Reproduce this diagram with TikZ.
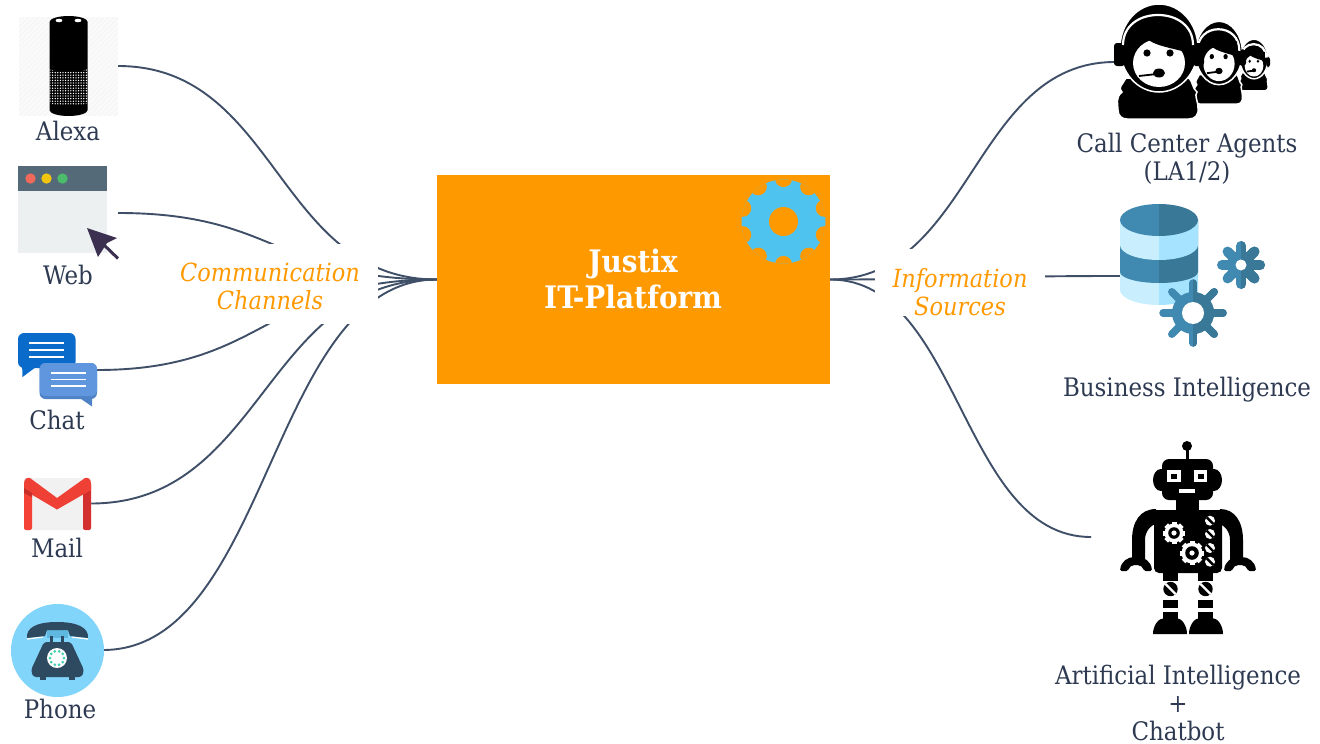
\documentclass[tikz,border=0pt]{standalone}
\usepackage{fontspec}
\usetikzlibrary{calc}
\setmainfont{DejaVu Serif Condensed}
\definecolor{linec}{HTML}{3F4F68}
\definecolor{textc}{HTML}{2E3A52}
\definecolor{orangec}{HTML}{FF9900}
\definecolor{gearblue}{HTML}{4FC3F0}
\definecolor{dbl}{HTML}{4089B0}
\definecolor{dbd}{HTML}{3A7898}
\definecolor{dbll}{HTML}{C9EFFF}
\definecolor{dbld}{HTML}{A6E3FF}
\definecolor{phoned}{HTML}{2E4A60}
\definecolor{webbg}{HTML}{ECF0F1}
\definecolor{webbar}{HTML}{546A79}
\definecolor{webr}{HTML}{F0695A}
\definecolor{weby}{HTML}{F1C40F}
\definecolor{webg}{HTML}{4CBB6C}
\definecolor{cursorc}{HTML}{3B3050}
\definecolor{chata}{HTML}{0B6BCB}
\definecolor{chatb}{HTML}{5F96DD}
\definecolor{chatc}{HTML}{4F82C6}
\definecolor{mailbg}{HTML}{F1F1F1}
\definecolor{maila}{HTML}{F44336}
\definecolor{mailb}{HTML}{D32F2F}
\definecolor{mailc}{HTML}{EE4035}
\definecolor{maild}{HTML}{C62E27}
\definecolor{phonebg}{HTML}{81D4FA}
\definecolor{phoneneck}{HTML}{5FB8DF}
\definecolor{phonedot}{HTML}{3FD0B2}
\tikzset{
  conn/.style={draw=linec,line width=1.9pt},
  iconcap/.style={text=textc,font=\fontsize{25.5}{28}\selectfont,align=center,inner sep=0pt},
  srclabel/.style={text=orangec,font=\fontsize{25}{28}\selectfont\itshape,align=center,inner sep=0pt},
  mask/.style={fill=white,draw=none,inner sep=0pt}
}
% half-bands of the database cylinder
\newcommand{\dbband}[5]{%
  \fill[#4] (1120,#1) -- (1120,#2) .. controls (1120,{#2+.55*#3}) and (1137.5,{#2+#3}) .. (1159,{#2+#3}) -- (1159,#1) -- cycle;
  \fill[#5] (1198,#1) -- (1198,#2) .. controls (1198,{#2+.55*#3}) and (1180.5,{#2+#3}) .. (1159,{#2+#3}) -- (1159,#1) -- cycle;
}
% x y bodyradius toothlength toothwidth holeradius
\newcommand{\twogear}[6]{%
  \begin{scope}
    \foreach \a in {0,45,...,315}{\draw[dbl,line width=#5pt,line cap=round] (#1,#2) -- ++({\a}:#4);}
    \fill[dbl] (#1,#2) circle[radius=#3];
    \clip (#1,{#2-60}) rectangle ({#1+60},{#2+60});
    \foreach \a in {0,45,...,315}{\draw[dbd,line width=#5pt,line cap=round] (#1,#2) -- ++({\a}:#4);}
    \fill[dbd] (#1,#2) circle[radius=#3];
  \end{scope}
  \fill[white] (#1,#2) circle[radius=#6];
}
% agent silhouette
\newcommand{\agent}[4]{%
  \begin{scope}[shift={(#1,#2)},xscale=#3,yscale=#4]
    \fill[black,draw=white,line width=1.5pt] (-33,30) .. controls (-36,36) and (-42,40) .. (-37,44) .. controls (-44,50) and (-41,56) .. (-41,62) .. controls (-41,68) and (-37,71) .. (-32,71) -- (30,71) .. controls (36,71) and (40,67) .. (39,60) .. controls (39,52) and (35,48) .. (38,44) .. controls (33,40) and (34,34) .. (30,30) -- cycle;
    \fill[black,draw=white,line width=1.5pt] (0,0) ellipse[x radius=39,y radius=44];
    \fill[black,rounded corners=3pt] (-45,-5) rectangle (-34,18);
    \fill[black,rounded corners=3pt] (34,-5) rectangle (45,18);
    \draw[white,line width=2.2pt] (-36,-3) .. controls (-36,-22) and (-20,-33) .. (-1,-33) .. controls (18,-33) and (34,-22) .. (34,-3);
    \fill[white] (0,15) ellipse[x radius=26,y radius=24];
    \fill[black] (-30,-16) -- (-30,5) -- (-26,3) .. controls (-22,-2) and (-18,-8) .. (-14,-11) .. controls (-6,-2) and (14,0) .. (30,5) -- (30,-16) -- cycle;
    \fill[black] (-12,5) circle[radius=3.6];
    \fill[black] (11,5) circle[radius=3.6];
    \draw[black,line width=1.8pt] (-20,28) -- (-2,26);
    \fill[black] (0,25) ellipse[x radius=6,y radius=4.5];
  \end{scope}
}
% screw
\newcommand{\screw}[5]{%
  \fill[#4] (#1,#2) circle[radius=#3];
  \begin{scope}
    \clip (#1,#2) circle[radius=#3];
    \draw[#5,line width=2.4pt] ({#1-#3},{#2-#3}) -- ({#1+#3},{#2+#3});
  \end{scope}
}
% small white gear on robot
\newcommand{\robgear}[3]{%
  \foreach \a in {0,45,...,315}{\draw[white,line width=5pt] (#1,#2) -- ++({\a}:#3);}
  \fill[white] (#1,#2) circle[radius={#3-1.5}];
  \fill[black] (#1,#2) circle[radius={#3-5.2}];
  \fill[white] (#1,#2) circle[radius=2.6];
}
\newcommand{\robhand}[1]{%
  \fill[black,rounded corners=1.5pt] ({#1-16},571) .. controls ({#1-15},561) and ({#1-8},557) .. (#1,557) .. controls ({#1+8},557) and ({#1+15},561) .. ({#1+16},571) -- ({#1+8},571) .. controls ({#1+7},567) and ({#1+4},565) .. (#1,565) .. controls ({#1-4},565) and ({#1-7},567) .. ({#1-8},571) -- cycle;
}
\newcommand{\robleg}[1]{%
  \fill[black] ({#1-7.5},570) rectangle ({#1+7.5},581);
  \screw{#1}{589}{7.2}{black}{white}
  \fill[black] ({#1-7.5},600) rectangle ({#1+7.5},608);
  \fill[black] ({#1-7.5},612) rectangle ({#1+7.5},622);
}
\begin{document}
\begin{tikzpicture}[x=1pt,y=-1pt]
\useasboundingbox (0,0) rectangle (1320,744);
\fill[white] (0,0) rectangle (1320,744);

% anchors of the connectors
\coordinate (alexaEnd) at (118,66);
\coordinate (webEnd) at (118,213);
\coordinate (chatEnd) at (97,370);
\coordinate (mailEnd) at (91,503.5);
\coordinate (phoneEnd) at (103,650);
\coordinate (agentsEnd) at (1115,62);
\coordinate (biEnd) at (1120,276);
\coordinate (robotEnd) at (1091,537);

% central box
\node[fill=orangec,minimum width=393pt,minimum height=209pt,inner sep=0pt] (platform) at (633.5,279.5) {};

% connectors
\draw[conn] (alexaEnd) .. controls +(160,0) and ($(platform.west)+(-160,0)$) .. (platform.west);
\draw[conn] (webEnd) .. controls +(160,0) and ($(platform.west)+(-160,0)$) .. (platform.west);
\draw[conn] (chatEnd) .. controls +(170,0) and ($(platform.west)+(-170,0)$) .. (platform.west);
\draw[conn] (mailEnd) .. controls +(173,0) and ($(platform.west)+(-173,0)$) .. (platform.west);
\draw[conn] (phoneEnd) .. controls +(167,0) and ($(platform.west)+(-167,0)$) .. (platform.west);
\draw[conn] (agentsEnd) .. controls +(-142,0) and ($(platform.east)+(142,0)$) .. (platform.east);
\draw[conn] (biEnd) .. controls +(-144,0) and ($(platform.east)+(144,0)$) .. (platform.east);
\draw[conn] (robotEnd) .. controls +(-130,0) and ($(platform.east)+(130,0)$) .. (platform.east);

% masks + labels
\node[mask,minimum width=208pt,minimum height=80pt] (commMask) at (274,283.5) {};
\node[srclabel] (comm) at (270,286) {Communication\\Channels};
\node[mask,minimum width=170pt,minimum height=67pt] (infoMask) at (960,282.5) {};
\node[srclabel] (info) at (960,292) {Information\\Sources};

% box text
\node[text=white,font=\fontsize{31}{36}\selectfont\bfseries,align=center,inner sep=0pt] (platformText) at (633,279) {Justix\\IT-Platform};
% box gear
\begin{scope}
  \clip (783.5,221.5) circle[radius=42];
  \fill[gearblue] (783.5,221.5) circle[radius=42];
  \foreach \a in {18,54,...,342}{\fill[orangec] (783.5,221.5) ++({\a}:43) circle[radius=8.6];}
\end{scope}
\fill[orangec] (783.5,221.5) circle[radius=14.5];

% Alexa
\fill[black!2] (19,17) rectangle (118,116);
\begin{scope}
  \clip (19,17) rectangle (118,116);
  \foreach \d in {0,5,...,200}{\draw[black!5,line width=.4pt] ({19+\d-100},116) -- ({19+\d},17);}
\end{scope}
\fill[black] (49.5,22) .. controls (49.5,18.7) and (58,16) .. (68.6,16) .. controls (79,16) and (87.7,18.7) .. (87.7,22) -- (87.7,110) .. controls (87.7,113.3) and (79,116) .. (68.6,116) .. controls (58,116) and (49.5,113.3) .. (49.5,110) -- cycle;
\fill[white] (59,20.5) ellipse[x radius=3.4,y radius=1.8];
\fill[white] (78,20.5) ellipse[x radius=3.4,y radius=1.8];
\begin{scope}
  \clip (49.5,69) .. controls (58,73) and (79,73) .. (87.7,69) -- (87.7,103) .. controls (79,107) and (58,107) .. (49.5,103) -- cycle;
  \foreach \yy in {70,72.6,...,106}{\foreach \xx in {50,52.6,...,88}{\fill[white] (\xx,\yy) circle[radius=.72];}}
\end{scope}
\node[iconcap] (alexaLabel) at (68,131) {Alexa};

% Web
\fill[webbg] (18,191) rectangle (106.5,253);
\fill[webbar] (18,166) rectangle (106.5,191);
\fill[webr] (30.5,178.5) circle[radius=5.2];
\fill[weby] (46.5,178.5) circle[radius=5.2];
\fill[webg] (62.5,178.5) circle[radius=5.2];
\fill[cursorc] (87,228) -- (117,238) -- (107,243) -- (98,257) -- cycle;
\draw[cursorc,line width=3pt] (103,244) -- (118,258.5);
\node[iconcap] (webLabel) at (68,275) {Web};

% Chat
\fill[chata,rounded corners=6pt] (18,333) rectangle (75.5,368);
\fill[chata] (22,362) -- (22.5,377) -- (40,364) -- cycle;
\foreach \yy in {343,350,357}{\draw[white,line width=1.4pt] (29,\yy) -- (64,\yy);}
\fill[chatc] (74,394) -- (92,394) -- (92,406.5) -- cycle;
\fill[chatc,rounded corners=6pt] (39.5,363) rectangle (97,399);
\fill[chatb,rounded corners=6pt] (39.5,363) rectangle (97,396);
\foreach \yy in {373,379.5,386}{\draw[white,line width=1.4pt] (51,\yy) -- (86,\yy);}
\node[iconcap] (chatLabel) at (57,420) {Chat};

% Mail
\fill[mailbg,rounded corners=2pt] (24,478) rectangle (91,530);
\fill[maila,rounded corners=2pt] (24,482) rectangle (32,530);
\fill[mailb,rounded corners=2pt] (83,482) rectangle (91,530);
\fill[mailc] (24,484) .. controls (24,479) and (27,477) .. (30,478) -- (57,498) -- (85,478) .. controls (88,477) and (91,479) .. (91,484) -- (91,490) -- (57,509.5) -- (24,490) -- cycle;
\fill[maild] (24,488) -- (32,493) -- (32,497) -- (24,493) -- cycle;
\node[iconcap] (mailLabel) at (57,548) {Mail};

% Phone
\fill[phonebg] (57.5,650.5) circle[radius=46.5];
\draw[white,line width=1.3pt] (27,639) -- (43,637);
\draw[white,line width=1.3pt] (88,639) -- (72,637);
\fill[phoneneck] (47,630) rectangle (68,638);
\fill[phoned] (27,638) .. controls (26,628) and (36,622) .. (57,622) .. controls (78,622) and (89,628) .. (88,638) -- (70,636) -- (68,630) -- (47,630) -- (45,636) -- cycle;
\fill[phoned] (50,636) rectangle (53,644);
\fill[phoned] (61,636) rectangle (64,644);
\fill[phoned] (40,674) rectangle (46,680);
\fill[phoned] (69,674) rectangle (75,680);
\fill[phoned,rounded corners=3pt] (44,642) -- (71,642) -- (84,670) -- (82,677) -- (33,677) -- (31,670) -- cycle;
\fill[white] (57,658) circle[radius=10];
\foreach \a in {0,36,...,324}{\fill[phonedot] (57,658) ++({\a}:7) circle[radius=1.5];}
\node[iconcap] (phoneLabel) at (60,709) {Phone};

% Call centre agents
\agent{1254}{59}{.36}{.45}
\agent{1219}{53}{.6}{.72}
\agent{1159}{48}{1}{1}
\node[iconcap] (agentsLabel) at (1187,159) {Call Center Agents\\(LA1/2)};

% Business intelligence
\dbband{245}{290}{15}{dbll}{dbld}
\dbband{220}{272}{11}{dbl}{dbd}
\dbband{220}{245}{15}{dbll}{dbld}
\dbband{220}{220}{16}{dbl}{dbd}
\fill[dbl] (1120,220) .. controls (1120,211) and (1137.5,204) .. (1159,204) -- (1159,220) -- cycle;
\fill[dbd] (1198,220) .. controls (1198,211) and (1180.5,204) .. (1159,204) -- (1159,220) -- cycle;
\twogear{1241}{265}{14}{19}{10}{5.5}
\twogear{1193}{313}{21}{30}{7.5}{11}
\node[iconcap] (biLabel) at (1187,390) {Business Intelligence};

% Robot
\draw[black,line width=3pt] (1187,446) -- (1187,462);
\fill[black] (1187,446) circle[radius=5];
\fill[black] (1161,480) ellipse[x radius=8,y radius=11];
\fill[black] (1214,480) ellipse[x radius=8,y radius=11];
\fill[black,rounded corners=7pt] (1162,459) rectangle (1213,500);
\fill[black] (1176,498) rectangle (1199,512);
\fill[white] (1167,470) rectangle (1181,482);
\fill[black] (1171,473.5) rectangle (1177,479);
\fill[white] (1194,470) rectangle (1207,482);
\fill[black] (1197.5,473.5) rectangle (1203.5,479);
\fill[white] (1179,489) rectangle (1195,493);
% shoulders and arms
\fill[black] (1156,509) .. controls (1140,509) and (1132,522) .. (1132,540) -- (1132,562) -- (1145,562) -- (1145,540) .. controls (1145,532) and (1150,525) .. (1158,523) -- cycle;
\fill[black] (1220,509) .. controls (1235,509) and (1243,522) .. (1243,540) -- (1243,562) -- (1230,562) -- (1230,540) .. controls (1230,532) and (1225,525) .. (1217,523) -- cycle;
\robhand{1136}
\robhand{1240}
% torso
\fill[black,rounded corners=5pt] (1154,510) rectangle (1222,573);
\fill[black] (1154,510) rectangle (1222,525);
\robgear{1174}{533}{11}
\robgear{1192}{553}{12}
\foreach \yy in {520.7,534,548,561.7}{\screw{1210}{\yy}{5}{white}{black}}
% legs
\robleg{1170.5}
\robleg{1205.5}
\fill[black] (1153,634) .. controls (1153,626) and (1158,618) .. (1165,618) -- (1176,618) .. controls (1182,618) and (1187,626) .. (1187,634) -- cycle;
\fill[black] (1189,634) .. controls (1189,626) and (1194,618) .. (1200,618) -- (1212,618) .. controls (1218,618) and (1223,626) .. (1223,634) -- cycle;
\node[iconcap] (robotLabel) at (1178,703) {Artificial Intelligence\\+\\Chatbot};
\end{tikzpicture}
\end{document}
